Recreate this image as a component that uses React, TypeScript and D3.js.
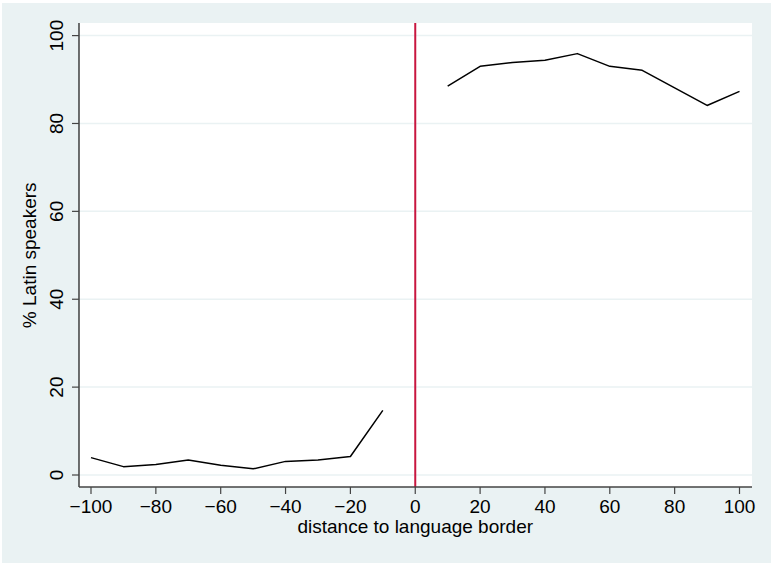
import * as d3 from "d3";

// distance bins (km) and share of Latin speakers (%)
const leftDist = [-100, -90, -80, -70, -60, -50, -40, -30, -20, -10];
const leftShare = [3.95, 1.9, 2.4, 3.4, 2.2, 1.4, 3.1, 3.4, 4.2, 14.7];
const rightDist = [10, 20, 30, 40, 50, 60, 70, 80, 90, 100];
const rightShare = [88.5, 93.0, 93.9, 94.4, 95.9, 93.0, 92.1, 88.1, 84.1, 87.3];

const xTicks = [-100, -80, -60, -40, -20, 0, 20, 40, 60, 80, 100];
const yTicks = [0, 20, 40, 60, 80, 100];
const borderAt = 0;

const W = 771;
const H = 563;
const plot = { left: 79, right: 752, top: 23, bottom: 487 };
const bg = "#EAF2F3";
const font = "'Liberation Sans', Arial, sans-serif";

const App = () => {
  const x = d3.scaleLinear().domain([-100, 100]).range([91, 739.5]);
  const y = d3.scaleLinear().domain([0, 100]).range([475, 35.6]);

  const line = d3
    .line<[number, number]>()
    .x((d) => x(d[0]))
    .y((d) => y(d[1]));

  const leftPts = leftDist.map((d, i) => [d, leftShare[i]] as [number, number]);
  const rightPts = rightDist.map((d, i) => [d, rightShare[i]] as [number, number]);

  return (
    <svg
      width={W}
      height={H}
      style={{ position: "absolute", left: 0, top: 0, background: "#fff" }}
      fontFamily={font}
    >
      <rect x={2} y={3} width={W - 2} height={H - 3} fill={bg} />
      <rect
        x={plot.left}
        y={plot.top}
        width={plot.right - plot.left}
        height={plot.bottom - plot.top}
        fill="#fff"
      />

      {/* gridlines */}
      {yTicks.map((t) => (
        <line
          key={"g" + t}
          x1={plot.left}
          x2={plot.right}
          y1={y(t)}
          y2={y(t)}
          stroke={bg}
          strokeWidth={1.5}
        />
      ))}

      {/* series */}
      <path d={line(leftPts)!} fill="none" stroke="#000" strokeWidth={1.5} strokeLinejoin="round" />
      <path d={line(rightPts)!} fill="none" stroke="#000" strokeWidth={1.5} strokeLinejoin="round" />

      {/* language border */}
      <line
        x1={x(borderAt)}
        x2={x(borderAt)}
        y1={plot.top}
        y2={plot.bottom}
        stroke="#C8163F"
        strokeWidth={2}
      />

      {/* axes */}
      <line x1={plot.left} x2={plot.left} y1={plot.top} y2={plot.bottom} stroke="#222" strokeWidth={1.3} />
      <line x1={plot.left} x2={plot.right} y1={plot.bottom} y2={plot.bottom} stroke="#444" strokeWidth={1.3} />

      {xTicks.map((t) => (
        <g key={"x" + t} transform={`translate(${x(t)},${plot.bottom})`}>
          <line y1={0} y2={7} stroke="#444" strokeWidth={1.2} />
          <text y={26} textAnchor="middle" fontSize={19}>
            {t < 0 ? "\u2212" + Math.abs(t) : t}
          </text>
        </g>
      ))}
      {yTicks.map((t) => (
        <g key={"y" + t} transform={`translate(${plot.left},${y(t)})`}>
          <line x1={0} x2={-7} stroke="#444" strokeWidth={1.2} />
          <text transform="translate(-16.5,0) rotate(-90)" textAnchor="middle" fontSize={19}>
            {t}
          </text>
        </g>
      ))}

      <text x={x(0)} y={533} textAnchor="middle" fontSize={19}>
        distance to language border
      </text>
      <text
        transform={`translate(35.5,${(y(0) + y(100)) / 2}) rotate(-90)`}
        textAnchor="middle"
        fontSize={19}
      >
        % Latin speakers
      </text>
    </svg>
  );
};

export default App;
